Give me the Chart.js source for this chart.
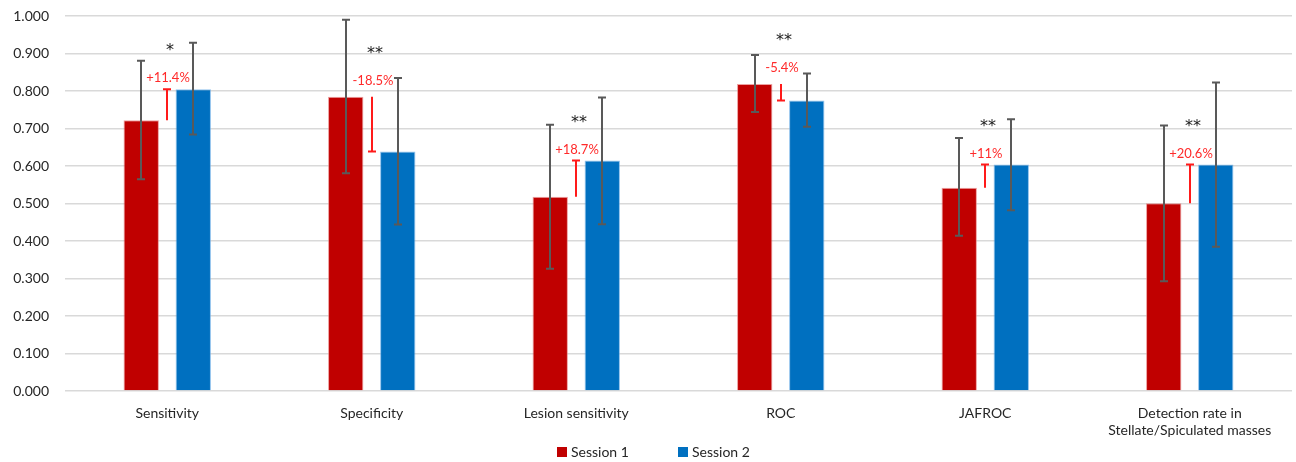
<!DOCTYPE html>
<html>
<head>
<meta charset="utf-8">
<script src="https://cdn.jsdelivr.net/npm/chart.js@4/dist/chart.umd.min.js"></script>
<style>
html,body{margin:0;padding:0;background:#fff;}
#wrap{width:1296px;height:462px;position:relative;}
</style>
</head>
<body>
<div id="wrap"><canvas id="c" width="1296" height="462"></canvas></div>
<script>
const categories = ['Sensitivity','Specificity','Lesion sensitivity','ROC','JAFROC',['Detection rate in','Stellate/Spiculated masses']];
const seriesNames = ['Session 1','Session 2'];
const session1 = [0.722, 0.785, 0.518, 0.819, 0.542, 0.501];
const session2 = [0.805, 0.639, 0.615, 0.775, 0.604, 0.604];
const session1Low = [0.565, 0.581, 0.326, 0.744, 0.414, 0.293];
const session1High = [0.881, 0.990, 0.710, 0.896, 0.675, 0.708];
const session2Low = [0.684, 0.444, 0.445, 0.705, 0.482, 0.385];
const session2High = [0.929, 0.835, 0.783, 0.847, 0.725, 0.823];
const changeLabels = ['+11.4%','-18.5%','+18.7%','-5.4%','+11%','+20.6%'];
const significance = ['*','**','**','**','**','**'];
const yTicks = [0,0.1,0.2,0.3,0.4,0.5,0.6,0.7,0.8,0.9,1.0];

const FONT = 'Lato, "Open Sans", sans-serif';
const TXT = '#262626';
const RED = '#c00000', BLUE = '#0070c0';

const overlay = {
  id: 'overlay',
  afterDatasetsDraw(chart) {
    const ctx = chart.ctx;
    const y = chart.scales.y, x = chart.scales.x;
    const lows = [session1Low, session2Low], highs = [session1High, session2High];
    ctx.save();
    // error bars
    ctx.strokeStyle = '#595959';
    ctx.lineWidth = 2;
    [0,1].forEach(d => {
      chart.getDatasetMeta(d).data.forEach((bar, i) => {
        const yl = y.getPixelForValue(lows[d][i]);
        const yh = y.getPixelForValue(highs[d][i]);
        const bx = Math.round(bar.x);
        ctx.beginPath();
        ctx.moveTo(bx, yl); ctx.lineTo(bx, yh);
        ctx.moveTo(bx-4, yl); ctx.lineTo(bx+4, yl);
        ctx.moveTo(bx-4, yh); ctx.lineTo(bx+4, yh);
        ctx.stroke();
      });
    });
    // change annotations
    categories.forEach((c, i) => {
      const cx = Math.round(x.getPixelForValue(i));
      const y1 = y.getPixelForValue(session1[i]);
      const y2 = y.getPixelForValue(session2[i]);
      ctx.strokeStyle = '#ff1a1a';
      ctx.lineWidth = 2;
      ctx.beginPath();
      ctx.moveTo(cx, y1); ctx.lineTo(cx, y2);
      ctx.moveTo(cx-4, y2); ctx.lineTo(cx+4, y2);
      ctx.stroke();
      const top = Math.min(y1, y2);
      const inc = session2[i] >= session1[i];
      const ly = top - (inc ? 11 : 16);
      ctx.fillStyle = '#ff2a2a';
      ctx.font = '13px ' + FONT;
      ctx.textAlign = 'center';
      ctx.textBaseline = 'middle';
      ctx.fillText(changeLabels[i], cx + 1, ly);
      ctx.fillStyle = '#1a1a1a';
      ctx.font = '16px "DejaVu Sans", sans-serif';
      ctx.textBaseline = 'middle';
      ctx.fillText(significance[i], cx + 3, ly - 27);
    });
    ctx.restore();
  },
  afterDraw(chart) {
    const ctx = chart.ctx;
    ctx.save();
    ctx.font = '14px ' + FONT;
    ctx.textBaseline = 'middle';
    ctx.textAlign = 'left';
    const cy = 452;
    const items = [[RED, seriesNames[0], 557], [BLUE, seriesNames[1], 678]];
    items.forEach(([col, t, bx]) => {
      ctx.fillStyle = col;
      ctx.fillRect(bx, cy - 5, 10, 10);
      ctx.fillStyle = TXT;
      ctx.fillText(t, bx + 14, cy);
    });
    ctx.restore();
  }
};

new Chart(document.getElementById('c'), {
  type: 'bar',
  data: {
    labels: categories,
    datasets: [
      {label: seriesNames[0], data: session1, backgroundColor: RED, borderColor: 'rgba(230,120,120,0.7)', borderWidth: 1},
      {label: seriesNames[1], data: session2, backgroundColor: BLUE, borderColor: 'rgba(100,170,230,0.7)', borderWidth: 1}
    ]
  },
  options: {
    responsive: false,
    animation: false,
    devicePixelRatio: 1,
    layout: {padding: {top: 16, right: 4, left: 0, bottom: 0}},
    plugins: {legend: {display: false}, tooltip: {enabled: false}},
    datasets: {bar: {categoryPercentage: 0.509, barPercentage: 0.68}},
    scales: {
      x: {
        grid: {display: false, drawTicks: false},
        border: {display: false},
        ticks: {font: {family: FONT, size: 14}, color: TXT, padding: 14, maxRotation: 0, autoSkip: false},
        afterFit(s) { s.height = 71; s.paddingLeft = 0; s.paddingRight = 0; }
      },
      y: {
        min: 0, max: 1,
        afterBuildTicks(s) { s.ticks = yTicks.map(v => ({value: v})); },
        grid: {color: '#d9d9d9', lineWidth: 1.5, drawTicks: false},
        border: {display: false},
        ticks: {font: {family: FONT, size: 14}, color: TXT, padding: 16, callback: v => v.toFixed(3)},
        afterFit(s) { s.width = 65; s.paddingTop = 0; s.paddingBottom = 0; }
      }
    }
  },
  plugins: [overlay]
});
</script>
</body>
</html>
